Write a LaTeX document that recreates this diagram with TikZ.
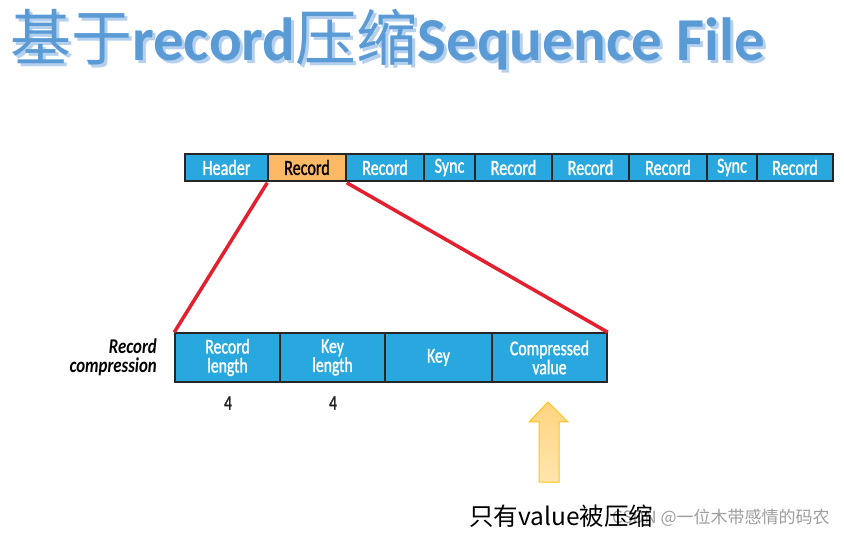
\documentclass[tikz,border=0pt]{standalone}
\usepackage{fontspec}
\newfontfamily\cjk{Noto Sans CJK SC}
\newfontfamily\carlito{Carlito}
\newfontfamily\cond[FakeStretch=0.75,FakeBold=1.2]{Carlito}
\newfontfamily\condb[FakeStretch=0.8]{Carlito Bold Italic}
\definecolor{cellblue}{HTML}{29A8E0}
\definecolor{cellorange}{HTML}{FBB965}
\definecolor{redline}{HTML}{E5202E}
\definecolor{titleblue}{HTML}{5B9BD5}
\definecolor{titleshadow}{HTML}{B4D0EE}
\definecolor{arrowedge}{HTML}{FFC21A}
\definecolor{arrowtop}{HTML}{FFD47E}
\definecolor{arrowbot}{HTML}{FFE6AE}
\newcommand{\titlestr}{{\cjk 基于}{\carlito\bfseries record}{\cjk 压缩}{\carlito\bfseries Sequence File}}
\tikzset{
  cellbox/.style={draw=black!85, line width=1.5pt, fill=cellblue, text=white, inner sep=0pt,
    minimum height=27pt, font=\cond\fontsize{21.5}{21}\selectfont},
  recbox/.style={cellbox, minimum height=49pt, align=center, font=\cond\fontsize{21}{19}\selectfont},
  titletext/.style={anchor=west, inner sep=0pt, font=\fontsize{61}{61}\selectfont},
}
\begin{document}
\begin{tikzpicture}[x=1pt,y=-1pt]
\useasboundingbox (0,0) rectangle (844,537);
% title with shadow
\node[titletext, text=titleblue] (title) at (10,41)
  {\rlap{\hspace{3pt}\raisebox{-3pt}{\color{titleshadow}\titlestr}}\titlestr};
% top bar
\node[cellbox, minimum width=83pt] (header) at (226.5,167.5) {Header};
\node[cellbox, minimum width=78pt, fill=cellorange, text=black] (rec1) at (307,167.5) {Record};
\node[cellbox, minimum width=78pt] (rec2) at (385,167.5) {Record};
\node[cellbox, minimum width=51pt] (sync1) at (449.5,167.5) {Sync};
\node[cellbox, minimum width=77pt] (rec3) at (513.5,167.5) {Record};
\node[cellbox, minimum width=77pt] (rec4) at (590.5,167.5) {Record};
\node[cellbox, minimum width=78pt] (rec5) at (668,167.5) {Record};
\node[cellbox, minimum width=50pt] (sync2) at (732,167.5) {Sync};
\node[cellbox, minimum width=76pt] (rec6) at (795,167.5) {Record};
% record compression row
\node[recbox, minimum width=105pt] (rl) at (227.5,357.5) {Record\\length};
\node[recbox, minimum width=105pt] (kl) at (332.5,357.5) {Key\\length};
\node[recbox, minimum width=107pt] (key) at (438.5,357.5) {Key};
\node[recbox, minimum width=115pt] (cv) at (549.5,357.5) {Compressed\\value};
\node[anchor=east, align=right, inner sep=0pt, font=\condb\fontsize{21}{19}\selectfont] (rclabel) at (157,357.5) {Record\\compression};
\node[font=\cond\fontsize{21}{21}\selectfont, inner sep=0pt, text=black!85] (n1) at (228,403) {4};
\node[font=\cond\fontsize{21}{21}\selectfont, inner sep=0pt, text=black!85] (n2) at (333,403) {4};
% red lines
\draw[redline, line width=3.5pt] ([yshift=-1pt]rec1.south west) -- (rl.north west);
\draw[redline, line width=3.5pt] ([yshift=-1pt]rec1.south east) -- (cv.north east);
% arrow
\coordinate (tip) at (548,402);
\shade[top color=arrowtop, bottom color=arrowbot, draw=arrowedge, line width=1pt]
  (tip) -- (568,422) -- (559,422) -- (559,482) -- (539,482) -- (539,422) -- (529,422) -- cycle;
% caption
\node[anchor=west, inner sep=0pt, text=black!55, opacity=0.7, font=\cjk\fontsize{17}{17}\selectfont] (mark) at (612,518) {CSDN @一位木带感情的码农};
\node[anchor=west, inner sep=0pt, font=\cjk\fontsize{24.5}{24.5}\selectfont] (caption) at (469,516) {只有value被压缩};
\end{tikzpicture}
\end{document}
